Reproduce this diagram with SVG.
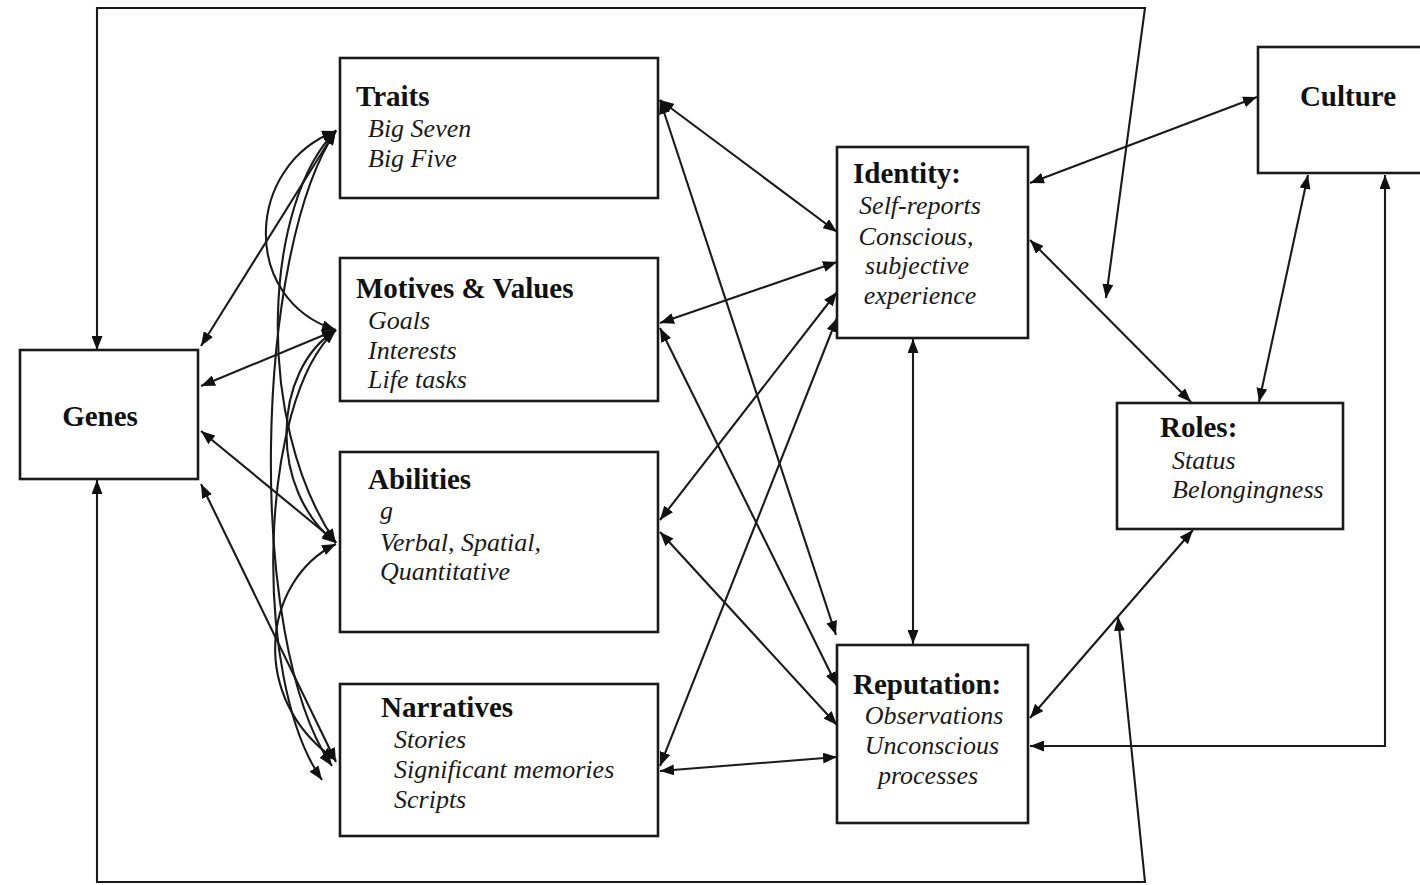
<svg xmlns="http://www.w3.org/2000/svg" width="1420" height="885" viewBox="0 0 1420 885">
<style>
.box{fill:#fff;stroke:#1a1a1a;stroke-width:2.6}
.t{font-family:"Liberation Serif","Times New Roman",serif;font-weight:bold;font-size:29px;fill:#111}
.i{font-family:"Liberation Serif","Times New Roman",serif;font-style:italic;font-size:26px;fill:#1a1a1a}
.c{fill:none;stroke:#1a1a1a;stroke-width:2.1}
</style>
<defs>
<marker id="a" markerUnits="userSpaceOnUse" markerWidth="14" markerHeight="11" refX="14" refY="5.5" orient="auto-start-reverse">
<path d="M0,0 L14,5.5 L0,11 z" fill="#111"/>
</marker>
</defs>
<rect width="1420" height="885" fill="#fff"/>
<g id="connectors">
<polyline class="c" points="97,350 97,8 1145,8 1106,298" marker-start="url(#a)" marker-end="url(#a)"/>
<polyline class="c" points="97,480 97,882 1145,882 1118,617" marker-start="url(#a)" marker-end="url(#a)"/>
<line class="c" x1="201" y1="346" x2="336" y2="130" marker-start="url(#a)" marker-end="url(#a)"/>
<line class="c" x1="201" y1="386" x2="336" y2="330" marker-start="url(#a)" marker-end="url(#a)"/>
<line class="c" x1="201" y1="431" x2="336" y2="542" marker-start="url(#a)" marker-end="url(#a)"/>
<line class="c" x1="201" y1="484" x2="336" y2="762" marker-start="url(#a)" marker-end="url(#a)"/>
<path class="c" d="M336,131 C245,165 240,300 336,330" marker-start="url(#a)" marker-end="url(#a)"/>
<path class="c" d="M336,131 C265,200 252,420 336,543" marker-start="url(#a)" marker-end="url(#a)"/>
<path class="c" d="M336,131 C255,250 245,640 332,766" marker-start="url(#a)" marker-end="url(#a)"/>
<path class="c" d="M336,330 C272,370 268,490 336,543" marker-start="url(#a)" marker-end="url(#a)"/>
<path class="c" d="M336,330 C258,400 252,680 322,780" marker-start="url(#a)" marker-end="url(#a)"/>
<path class="c" d="M336,544 C262,580 248,700 336,760" marker-start="url(#a)" marker-end="url(#a)"/>
<line class="c" x1="660" y1="100" x2="837" y2="232" marker-start="url(#a)" marker-end="url(#a)"/>
<line class="c" x1="660" y1="100" x2="836" y2="635" marker-start="url(#a)" marker-end="url(#a)"/>
<line class="c" x1="660" y1="323" x2="837" y2="262" marker-start="url(#a)" marker-end="url(#a)"/>
<line class="c" x1="660" y1="328" x2="837" y2="686" marker-start="url(#a)" marker-end="url(#a)"/>
<line class="c" x1="660" y1="520" x2="837" y2="292" marker-start="url(#a)" marker-end="url(#a)"/>
<line class="c" x1="660" y1="532" x2="837" y2="725" marker-start="url(#a)" marker-end="url(#a)"/>
<line class="c" x1="660" y1="766" x2="837" y2="318" marker-start="url(#a)" marker-end="url(#a)"/>
<line class="c" x1="660" y1="771" x2="837" y2="757" marker-start="url(#a)" marker-end="url(#a)"/>
<line class="c" x1="913" y1="339" x2="913" y2="644" marker-start="url(#a)" marker-end="url(#a)"/>
<line class="c" x1="1030" y1="183" x2="1257" y2="97" marker-start="url(#a)" marker-end="url(#a)"/>
<line class="c" x1="1030" y1="240" x2="1191" y2="402" marker-start="url(#a)" marker-end="url(#a)"/>
<line class="c" x1="1308" y1="175" x2="1259" y2="402" marker-start="url(#a)" marker-end="url(#a)"/>
<line class="c" x1="1030" y1="718" x2="1193" y2="530" marker-start="url(#a)" marker-end="url(#a)"/>
<polyline class="c" points="1030,746 1385,746 1385,175" marker-start="url(#a)" marker-end="url(#a)"/>
</g>
<g id="genes">
<rect class="box" x="20" y="350" width="178" height="129"/>
<text class="t" x="100" y="426" text-anchor="middle">Genes</text>
</g>
<g id="traits">
<rect class="box" x="340" y="58" width="318" height="140"/>
<text class="t" x="356" y="106">Traits</text>
<text class="i" x="368" y="137">Big Seven</text>
<text class="i" x="368" y="167">Big Five</text>
</g>
<g id="motives">
<rect class="box" x="340" y="258" width="318" height="143"/>
<text class="t" x="356" y="298">Motives &amp; Values</text>
<text class="i" x="368" y="329">Goals</text>
<text class="i" x="368" y="359">Interests</text>
<text class="i" x="368" y="388">Life tasks</text>
</g>
<g id="abilities">
<rect class="box" x="340" y="452" width="318" height="180"/>
<text class="t" x="368" y="489">Abilities</text>
<text class="i" x="380" y="519">g</text>
<text class="i" x="380" y="551">Verbal, Spatial,</text>
<text class="i" x="380" y="580">Quantitative</text>
</g>
<g id="narratives">
<rect class="box" x="340" y="684" width="318" height="152"/>
<text class="t" x="381" y="717">Narratives</text>
<text class="i" x="394" y="748">Stories</text>
<text class="i" x="394" y="778">Significant memories</text>
<text class="i" x="394" y="808">Scripts</text>
</g>
<g id="identity">
<rect class="box" x="837" y="147" width="191" height="191"/>
<text class="t" x="853" y="183">Identity:</text>
<text class="i" x="920" y="214" text-anchor="middle">Self-reports</text>
<text class="i" x="916" y="245" text-anchor="middle">Conscious,</text>
<text class="i" x="917" y="274" text-anchor="middle">subjective</text>
<text class="i" x="920" y="304" text-anchor="middle">experience</text>
</g>
<g id="reputation">
<rect class="box" x="837" y="645" width="191" height="178"/>
<text class="t" x="853" y="694">Reputation:</text>
<text class="i" x="934" y="724" text-anchor="middle">Observations</text>
<text class="i" x="932" y="754" text-anchor="middle">Unconscious</text>
<text class="i" x="928" y="784" text-anchor="middle">processes</text>
</g>
<g id="culture">
<rect class="box" x="1258" y="47" width="170" height="126"/>
<text class="t" x="1348" y="106" text-anchor="middle">Culture</text>
</g>
<g id="roles">
<rect class="box" x="1117" y="403" width="226" height="126"/>
<text class="t" x="1160" y="437">Roles:</text>
<text class="i" x="1172" y="469">Status</text>
<text class="i" x="1172" y="498">Belongingness</text>
</g>
</svg>
